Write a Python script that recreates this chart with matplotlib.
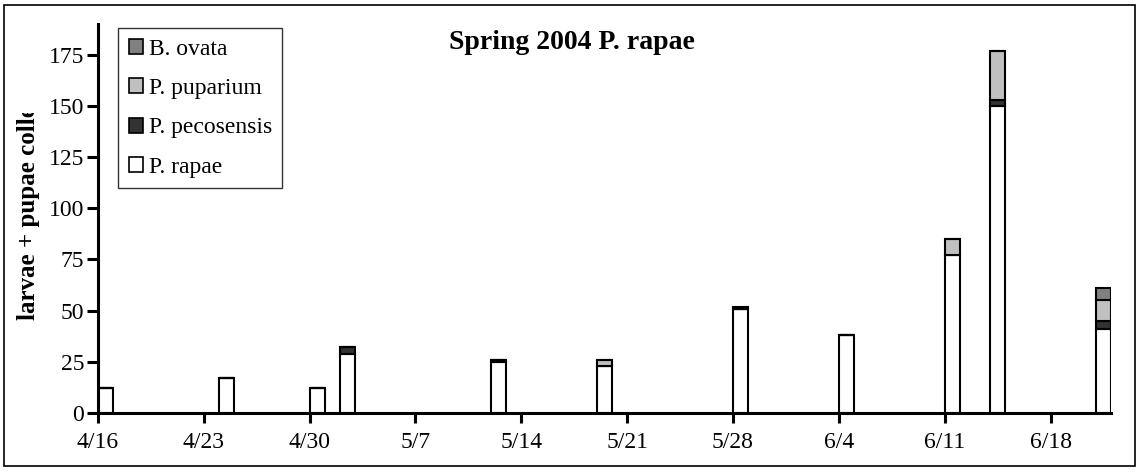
import matplotlib
matplotlib.use('Agg')
import matplotlib.pyplot as plt
from matplotlib.patches import Patch, Rectangle
from matplotlib.transforms import Bbox, TransformedBbox
from datetime import datetime

plt.rcParams['font.family'] = 'Liberation Serif'

# collection dates and counts per species (stacked bottom -> top)
dates = ['4/16', '4/24', '4/30', '5/2', '5/12', '5/19', '5/28', '6/4', '6/11', '6/14', '6/21']
rapae = [12, 17, 12, 29, 25, 23, 51, 38, 77, 150, 41]
pecosensis = [0, 0, 0, 3, 1, 0, 0, 0, 0, 3, 4]
puparium = [0, 0, 0, 0, 0, 3, 0, 0, 8, 24, 10]
ovata = [0, 0, 0, 0, 0, 0, 1, 0, 0, 0, 6]

tick_labels = ['4/16', '4/23', '4/30', '5/7', '5/14', '5/21', '5/28', '6/4', '6/11', '6/18']

start = datetime(2004, 4, 16)


def day_of(s):
    m, d = s.split('/')
    return (datetime(2004, int(m), int(d)) - start).days


x = [day_of(d) for d in dates]
ticks = [day_of(t) for t in tick_labels]

fig = plt.figure(figsize=(11.39, 4.75), dpi=100)
ax = fig.add_axes([0.086, 0.1305, 0.8894, 0.819])

series = [
    ('P. rapae', rapae, 'white'),
    ('P. pecosensis', pecosensis, '#333333'),
    ('P. puparium', puparium, '#c0c0c0'),
    ('B. ovata', ovata, '#808080'),
]
bottom = [0] * len(x)
for name, vals, col in series:
    ax.bar(x, vals, width=1, bottom=bottom, align='edge', color=col,
           edgecolor='black', linewidth=1.5, zorder=3)
    bottom = [b + v for b, v in zip(bottom, vals)]

ax.set_xlim(0, 67)
ax.set_ylim(0, 190)
ax.set_yticks(range(0, 176, 25))
ax.set_xticks(ticks)
ax.set_xticklabels(tick_labels)

for s in ['top', 'right']:
    ax.spines[s].set_visible(False)
for s in ['left', 'bottom']:
    ax.spines[s].set_linewidth(2.2)
    ax.spines[s].set_zorder(4)
ax.tick_params(axis='y', direction='out', length=8, width=2.2, labelsize=17, pad=2)
ax.tick_params(axis='x', direction='out', length=7, width=2.2, labelsize=17, pad=7)

ax.text(0.468, 0.952, 'Spring 2004 P. rapae', transform=ax.transAxes,
        ha='center', va='center', fontsize=20, fontweight='bold')

# y label is cut off at the top of its box
ylab = fig.text(0.025, 1 - 320 / 475, 'larvae + pupae collected', rotation=90,
                ha='center', va='bottom', fontsize=18, fontweight='bold')
ylab.set_clip_box(TransformedBbox(Bbox([[0, 0], [1, 1 - 113 / 475]]), fig.transFigure))
ylab.set_clip_on(True)

handles = [Patch(facecolor=c, edgecolor='black', linewidth=1.2, label=n)
           for n, _, c in series[::-1]]
leg = ax.legend(handles=handles, loc='upper left', bbox_to_anchor=(0.0197, 0.99),
                fontsize=17, frameon=True, fancybox=False, edgecolor='black',
                handlelength=0.6, handleheight=0.6, handletextpad=0.25,
                labelspacing=0.78, borderpad=0.45, borderaxespad=0)
leg.get_frame().set_linewidth(1.0)

fig.patches.append(Rectangle((4 / 1139, 1 - 466 / 475), 1131 / 1139, 461 / 475,
                             transform=fig.transFigure, fill=False,
                             edgecolor='black', linewidth=1.2))

fig.savefig('out.png', dpi=100)
